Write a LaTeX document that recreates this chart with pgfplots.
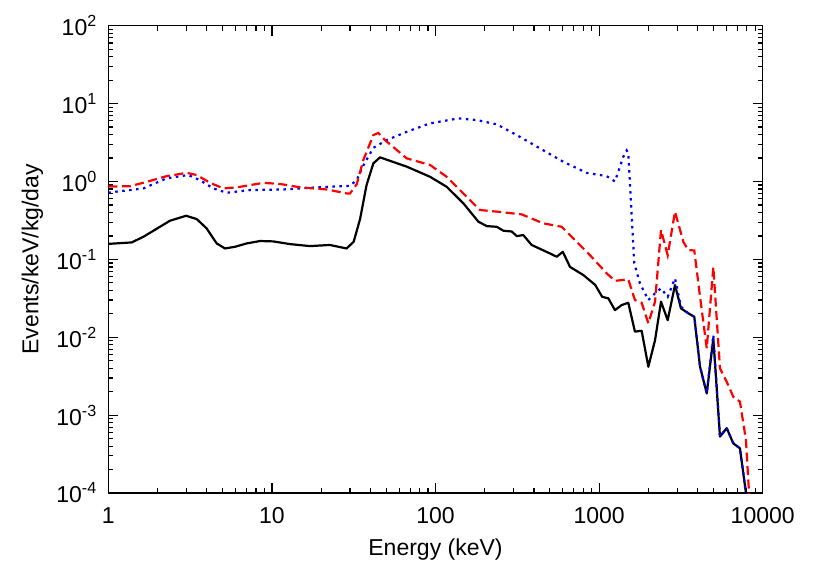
\documentclass[border=0pt]{standalone}
\usepackage{pgfplots}
\pgfplotsset{compat=1.18}
\usepackage{fontspec}
\setmainfont{Liberation Sans}
\begin{document}
\begin{tikzpicture}
\begin{axis}[
  xmode=log, ymode=log,
  scale only axis, width=654.4pt, height=467.3pt,
  xmin=1, xmax=10000, ymin=1e-4, ymax=100,
  axis line style={line width=1.4pt},
  tick style={line width=1.2pt, black},
  major tick length=10pt, minor tick length=5pt,
  tick align=inside,
  xtick={1,10,100,1000,10000},
  xticklabels={1,10,100,1000,10000},
  ytick={1e-4,1e-3,1e-2,1e-1,1,10,100},
  yticklabels={10\textsuperscript{-4},10\textsuperscript{-3},10\textsuperscript{-2},10\textsuperscript{-1},10\textsuperscript{0},10\textsuperscript{1},10\textsuperscript{2}},
  tick label style={font=\fontsize{23}{27}\selectfont},
  xticklabel style={yshift=-11pt},
  yticklabel style={xshift=-8pt},
  label style={font=\fontsize{23}{27}\selectfont},
  xlabel={Energy (keV)},
  ylabel={Events/keV/kg/day},
  xlabel style={at={(rel axis cs:0.5,-0.12)}, anchor=center},
  ylabel style={at={(rel axis cs:-0.116,0.5)}, anchor=center, rotate=0},
]
\coordinate (sw) at (rel axis cs:0,0);
\coordinate (ne) at (rel axis cs:1,1);
\addplot[black, line width=2.2pt, line join=round] coordinates {
(1,0.158)(1.39,0.165)(1.64,0.195)(2.38,0.313)(2.99,0.363)(3.47,0.329)(3.99,0.25)(4.6,0.16)(5.17,0.138)(5.95,0.145)(7.0,0.16)(8.46,0.172)(10.2,0.17)(12.9,0.157)(17.1,0.148)(22.6,0.153)(28.6,0.138)(31.6,0.168)(34.6,0.33)(37.9,0.9)(41.7,1.71)(45.8,2.04)(66.7,1.55)(92.5,1.15)(117,0.855)(148,0.524)(183,0.304)(206,0.267)(237,0.262)(260,0.233)(292,0.228)(314,0.199)(344,0.205)(387,0.153)(501,0.119)(551,0.108)(600,0.125)(664,0.080)(800,0.063)(946,0.047)(1045,0.033)(1138,0.0316)(1250,0.0223)(1374,0.0259)(1508,0.0277)(1656,0.0118)(1820,0.0121)(2000,0.00418)(2198,0.0092)(2390,0.0286)(2626,0.0166)(2910,0.0468)(3165,0.0235)(3508,0.0203)(3818,0.0183)(4140,0.00418)(4550,0.0019)(4990,0.0097)(5480,0.00053)(6026,0.00068)(6610,0.000434)(7260,0.000375)(7900,0.0001)(8100,0.00007)
};
\addplot[blue, line width=2.2pt, dash pattern=on 2.5pt off 4.5pt] coordinates {
(1,0.72)(1.36,0.776)(1.64,0.815)(2.27,1.097)(3.08,1.21)(3.63,1.04)(4.38,0.815)(5.29,0.716)(7.35,0.776)(11.8,0.79)(18.8,0.84)(30,0.88)(33,1.04)(36.2,1.6)(41.7,2.7)(50.3,3.4)(66.7,4.34)(92.5,5.57)(138,6.46)(179,6.14)(237,5.41)(314,3.94)(435,2.66)(604,1.79)(840,1.29)(1113,1.17)(1250,1.0)(1406,2.08)(1475,2.5)(1508,2.3)(1641,0.089)(1778,0.049)(2000,0.030)(2198,0.0366)(2390,0.0425)(2626,0.033)(2910,0.057)(3165,0.0247)(3508,0.0203)(3818,0.0183)(4140,0.00418)(4550,0.0019)(4990,0.0107)(5480,0.00053)(6026,0.00068)(6610,0.000434)(7260,0.000375)(7900,0.0001)(8100,0.00007)
};
\addplot[red, line width=2.2pt, dash pattern=on 9pt off 4.5pt] coordinates {
(1,0.86)(1.36,0.87)(1.72,0.99)(2.27,1.17)(3.02,1.29)(3.47,1.21)(4.19,0.96)(5.05,0.815)(6.1,0.84)(8.86,0.96)(11.2,0.93)(14.9,0.84)(21.6,0.79)(28.6,0.703)(30,0.70)(33,0.92)(36.2,1.88)(41.7,3.94)(44.7,4.2)(49.1,3.4)(66.7,1.98)(92.5,1.63)(117,1.15)(148,0.70)(187,0.43)(237,0.41)(336,0.378)(456,0.29)(590,0.262)(695,0.186)(880,0.113)(1113,0.066)(1250,0.053)(1508,0.0553)(1656,0.030)(1820,0.0277)(2000,0.0151)(2198,0.0286)(2390,0.238)(2626,0.113)(2910,0.41)(3273,0.168)(3508,0.1315)(3818,0.13)(4140,0.033)(4550,0.0072)(4990,0.080)(5480,0.004)(6026,0.00268)(6610,0.00172)(7260,0.00149)(7900,0.00048)(8250,0.0001)(8400,0.00007)
};
\end{axis}
\path ([xshift=-108.3pt,yshift=-78pt]sw) rectangle ([xshift=54.3pt,yshift=25.7pt]ne);
\end{tikzpicture}
\end{document}
